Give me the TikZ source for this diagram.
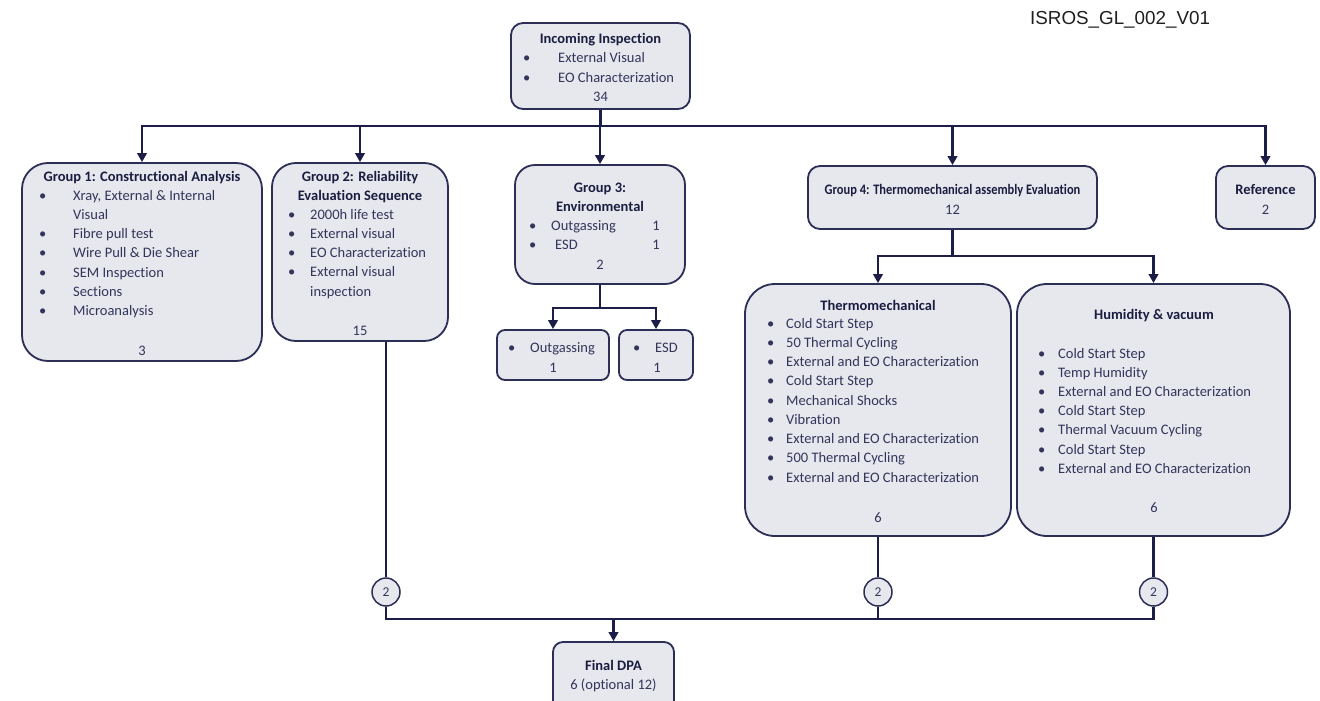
\documentclass[tikz,border=0pt]{standalone}
\usepackage{fontspec}
\setmainfont{Carlito}[Ligatures=NoCommon]
\newfontfamily\arialf{Liberation Sans}
\usetikzlibrary{arrows.meta,calc}
\definecolor{boxfill}{HTML}{E7E7EE}
\definecolor{boxdraw}{HTML}{2C2E56}
\definecolor{bodyc}{HTML}{33355A}
\definecolor{headc}{HTML}{1B1D40}
\definecolor{linec}{HTML}{1C1E48}
\newcommand\bl[2]{\makebox[#1][l]{\textbullet}#2}
\tikzset{
 box/.style={draw=boxdraw, fill=boxfill, line width=1.8pt, inner sep=0pt, rectangle},
 itm/.style={anchor=base west, inner sep=0pt, text=bodyc, font=\fontsize{14.5}{17}\selectfont},
 hd/.style={anchor=base, inner sep=0pt, text=headc, font=\fontsize{14.5}{17}\selectfont\bfseries},
 num/.style={anchor=base, inner sep=0pt, text=bodyc, font=\fontsize{14.5}{17}\selectfont},
 conn/.style={draw=linec, line width=2.5pt},
 arr/.style={conn, -{Triangle[width=9.5pt,length=9pt]}},
 cnt/.style={circle, draw=boxdraw, fill=boxfill, line width=1.5pt, minimum size=28pt, inner sep=0pt, text=bodyc, font=\fontsize{13.5}{15}\selectfont},
}
\begin{document}
\begin{tikzpicture}[x=1pt,y=-1pt]
\useasboundingbox (0,0) rectangle (1320,701);
\clip (0,0) rectangle (1320,701);
\fill[white] (0,0) rectangle (1320,701);

% boxes
\node[box, minimum width=179pt, minimum height=86pt, rounded corners=12pt] (inc) at (600.5,66) {};
\node[box, minimum width=240pt, minimum height=198pt, rounded corners=26pt] (g1) at (142,262) {};
\node[box, minimum width=176pt, minimum height=178pt, rounded corners=24pt] (g2) at (360,252) {};
\node[box, minimum width=170pt, minimum height=119pt, rounded corners=20pt] (g3) at (600,224.5) {};
\node[box, minimum width=112pt, minimum height=50pt, rounded corners=8pt] (og) at (553,355) {};
\node[box, minimum width=74pt, minimum height=50pt, rounded corners=8pt] (es) at (656,355) {};
\node[box, minimum width=289pt, minimum height=63pt, rounded corners=12pt] (g4) at (952.5,197.5) {};
\node[box, minimum width=99pt, minimum height=63pt, rounded corners=12pt] (ref) at (1265.5,197.5) {};
\node[box, minimum width=266pt, minimum height=252pt, rounded corners=30pt] (th) at (878,410) {};
\node[box, minimum width=273pt, minimum height=252pt, rounded corners=30pt] (hu) at (1153.5,410) {};
\node[box, minimum width=121pt, minimum height=70pt, rounded corners=10pt] (fd) at (613.5,677) {};

% code label
\node[anchor=base west, inner sep=0pt, text=black!88, font=\arialf\fontsize{18.8}{20}\selectfont] (code) at (1030,25) {ISROS\_GL\_002\_V01};

% top bus
\coordinate (bus) at (0,126);
\draw[conn, line cap=rect] (g1.north |- bus) -- (ref.north |- bus);
\draw[conn] (inc.south) -- (inc.south |- bus);
\foreach \n in {g1,g2,g3,g4,ref} \draw[arr] (\n.north |- bus) -- (\n.north);

% group 3 split
\coordinate (s3) at (0,308);
\draw[conn] (g3.south) -- (g3.south |- s3);
\draw[arr] (g3.south |- s3) -| (og.north);
\draw[arr] (g3.south |- s3) -| (es.north);

% group 4 split
\coordinate (s4) at (0,256);
\draw[conn] (g4.south) -- (g4.south |- s4);
\draw[arr] (g4.south |- s4) -| (th.north);
\draw[arr] (g4.south |- s4) -| (hu.north);

% bottom
\coordinate (cy) at (0,592);
\coordinate (bb) at (0,619);
\node[cnt] (c1) at (386,592) {2};
\node[cnt] (c2) at (th.south |- cy) {2};
\node[cnt] (c3) at (hu.south |- cy) {2};
\draw[conn] (c1 |- g2.south) -- (c1.north);
\draw[conn] (th.south) -- (c2.north);
\draw[conn] (hu.south) -- (c3.north);
\draw[conn] (c1.south) |- (c3.south |- bb) -- (c3.south);
\draw[conn] (c2.south) -- (c2.south |- bb);
\draw[arr] (fd.north |- bb) -- (fd.north);

% incoming text
\node[hd] (inct) at (600.5,44) {Incoming Inspection};
\node[itm] (inc1) at (523,63) {\bl{35pt}{External Visual}};
\node[itm] (inc2) at (523,82) {\bl{35pt}{EO Characterization}};
\node[num] (incn) at (600.5,102) {34};

% group 1
\node[hd] (g1t) at (142,181) {Group 1: Constructional\ Analysis};
\foreach \t [count=\i from 0] in {{\bl{34pt}{Xray, External \& Internal}},{\hspace*{34pt}Visual},{\bl{34pt}{Fibre pull test}},{\bl{34pt}{Wire Pull \& Die Shear}},{\bl{34pt}{SEM Inspection}},{\bl{34pt}{Sections}},{\bl{34pt}{Microanalysis}}}
  \node[itm] (g1i\i) at (39,200+19.3*\i) {\t};
\node[num] (g1n) at (142,355) {3};

% group 2
\node[hd] (g2t1) at (360,181) {Group 2: Reliability};
\node[hd] (g2t2) at (360,200) {Evaluation Sequence};
\foreach \t [count=\i from 0] in {{\bl{22pt}{2000h life test}},{\bl{22pt}{External visual}},{\bl{22pt}{EO Characterization}},{\bl{22pt}{External visual}},{\hspace*{22pt}inspection}}
  \node[itm] (g2i\i) at (288,219+19.3*\i) {\t};
\node[num] (g2n) at (360,335) {15};

% group 3
\node[hd] (g3t1) at (600,192) {Group 3:};
\node[hd] (g3t2) at (600,211) {Environmental};
\node[itm] (g3i1) at (529,230) {\bl{22pt}{Outgassing}};
\node[itm] (g3i2) at (529,249) {\bl{26pt}{ESD}};
\node[num] (g3n1) at (656,230) {1};
\node[num] (g3n2) at (656,249) {1};
\node[num] (g3n) at (600,269) {2};

\node[itm] (ogi) at (508,352) {\bl{22pt}{Outgassing}};
\node[num] (ogn) at (553,372) {1};
\node[itm] (esi) at (633,352) {\bl{22pt}{ESD}};
\node[num] (esn) at (657,372) {1};

% group 4 and reference
\node[hd] (g4t) at (952.5,194) {\scalebox{0.86}[1]{Group 4: Thermomechanical assembly Evaluation}};
\node[num] (g4n) at (952.5,214) {12};
\node[hd] (reft) at (1265.5,194) {Reference};
\node[num] (refn) at (1265.5,214) {2};

% thermomechanical
\node[hd] (tht) at (878,310) {Thermomechanical};
\foreach \t [count=\i from 0] in {Cold Start Step,50 Thermal Cycling,External and EO Characterization,Cold Start Step,Mechanical Shocks,Vibration,External and EO Characterization,500 Thermal Cycling,External and EO Characterization}
  \node[itm] (thi\i) at (767,328+19.25*\i) {\bl{19pt}{\t}};
\node[num] (thn) at (878,522) {6};

% humidity
\node[hd] (hut) at (1154,319) {Humidity \& vacuum};
\foreach \t [count=\i from 0] in {Cold Start Step,Temp Humidity,External and EO Characterization,Cold Start Step,Thermal Vacuum Cycling,Cold Start Step,External and EO Characterization}
  \node[itm] (hui\i) at (1038,358+19.2*\i) {\bl{20pt}{\t}};
\node[num] (hun) at (1154,512) {6};

% final
\node[hd] (fdt) at (613.5,670) {Final DPA};
\node[num] (fdn) at (613.5,689) {6 (optional 12)};
\end{tikzpicture}
\end{document}
